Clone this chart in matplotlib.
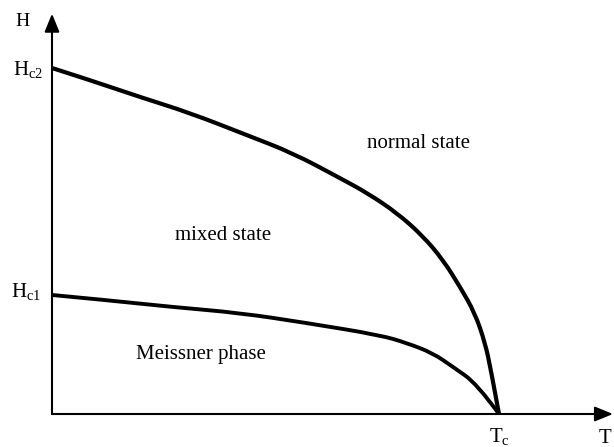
import numpy as np
import matplotlib
matplotlib.use("Agg")
import matplotlib.pyplot as plt
from matplotlib.path import Path
from matplotlib.patches import PathPatch

plt.rcParams['font.family'] = ['Liberation Serif', 'DejaVu Serif']
plt.rcParams['mathtext.fontset'] = 'custom'
plt.rcParams['mathtext.rm'] = 'Liberation Serif'
plt.rcParams['mathtext.it'] = 'Liberation Serif'

# reduced temperature T/Tc and reduced field H/Hc2
t_hc2 = [0.0, 0.085, 0.197, 0.309, 0.436, 0.539, 0.644, 0.705, 0.772,
         0.830, 0.875, 0.913, 0.946, 0.969, 0.982, 1.0]
h_hc2 = [1.0, 0.965, 0.916, 0.870, 0.806, 0.754, 0.682, 0.639, 0.581,
         0.514, 0.445, 0.367, 0.292, 0.205, 0.127, 0.0]

t_hc1 = [0.0, 0.123, 0.271, 0.421, 0.570, 0.734, 0.794, 0.852, 0.897, 0.951, 1.0]
h_hc1 = [0.344, 0.329, 0.309, 0.292, 0.263, 0.228, 0.205, 0.176, 0.136, 0.087, 0.0]

region_labels = ['normal state', 'mixed state', 'Meissner phase']
region_pos = [(0.819, 0.783), (0.383, 0.517), (0.334, 0.171)]


def smooth_curve(xs, ys):
    # quadratic bezier through segment midpoints, data points act as controls
    pts = list(zip(xs, ys))
    verts = [pts[0]]
    codes = [Path.MOVETO]
    for i in range(1, len(pts) - 1):
        mid = ((pts[i][0] + pts[i + 1][0]) / 2, (pts[i][1] + pts[i + 1][1]) / 2)
        if i == len(pts) - 2:
            mid = pts[-1]
        verts += [pts[i], mid]
        codes += [Path.CURVE3, Path.CURVE3]
    return Path(verts, codes)


fig = plt.figure(figsize=(6.14, 4.47), dpi=100)
ax = fig.add_axes([0, 0, 1, 1])
ax.set_xlim(-52 / 447, 562 / 447)
ax.set_ylim(-33 / 346, 414 / 346)
ax.axis('off')

# axes with arrowheads
ax.annotate('', xy=(0, 1.157), xytext=(0, 0),
            arrowprops=dict(arrowstyle='-|>,head_length=1.1,head_width=0.45',
                            lw=1.5, color='black', shrinkA=0, shrinkB=0))
ax.annotate('', xy=(1.255, 0), xytext=(0, 0),
            arrowprops=dict(arrowstyle='-|>,head_length=1.1,head_width=0.45',
                            lw=1.5, color='black', shrinkA=0, shrinkB=0))

ax.add_patch(PathPatch(smooth_curve(t_hc2, h_hc2), facecolor='none',
                       edgecolor='black', lw=3.0, capstyle='butt'))
ax.add_patch(PathPatch(smooth_curve(t_hc1, h_hc1), facecolor='none',
                       edgecolor='black', lw=2.8, capstyle='butt'))

fs = 15
ax.text(-0.065, 1.135, 'H', fontsize=14, ha='center', va='center')
ax.text(-0.054, 0.995, r'H$_{\mathrm{c2}}$', fontsize=fs, ha='center', va='center')
ax.text(-0.057, h_hc1[0] + 0.01, r'H$_{\mathrm{c1}}$', fontsize=fs, ha='center', va='center')
ax.text(1.0, -0.066, r'T$_{\mathrm{c}}$', fontsize=fs, ha='center', va='center')
ax.text(1.252, -0.07, 'T', fontsize=fs, ha='right', va='center')

for label, (x, y) in zip(region_labels, region_pos):
    ax.text(x, y, label, fontsize=fs, ha='center', va='center')

fig.savefig('out.png', dpi=100)
